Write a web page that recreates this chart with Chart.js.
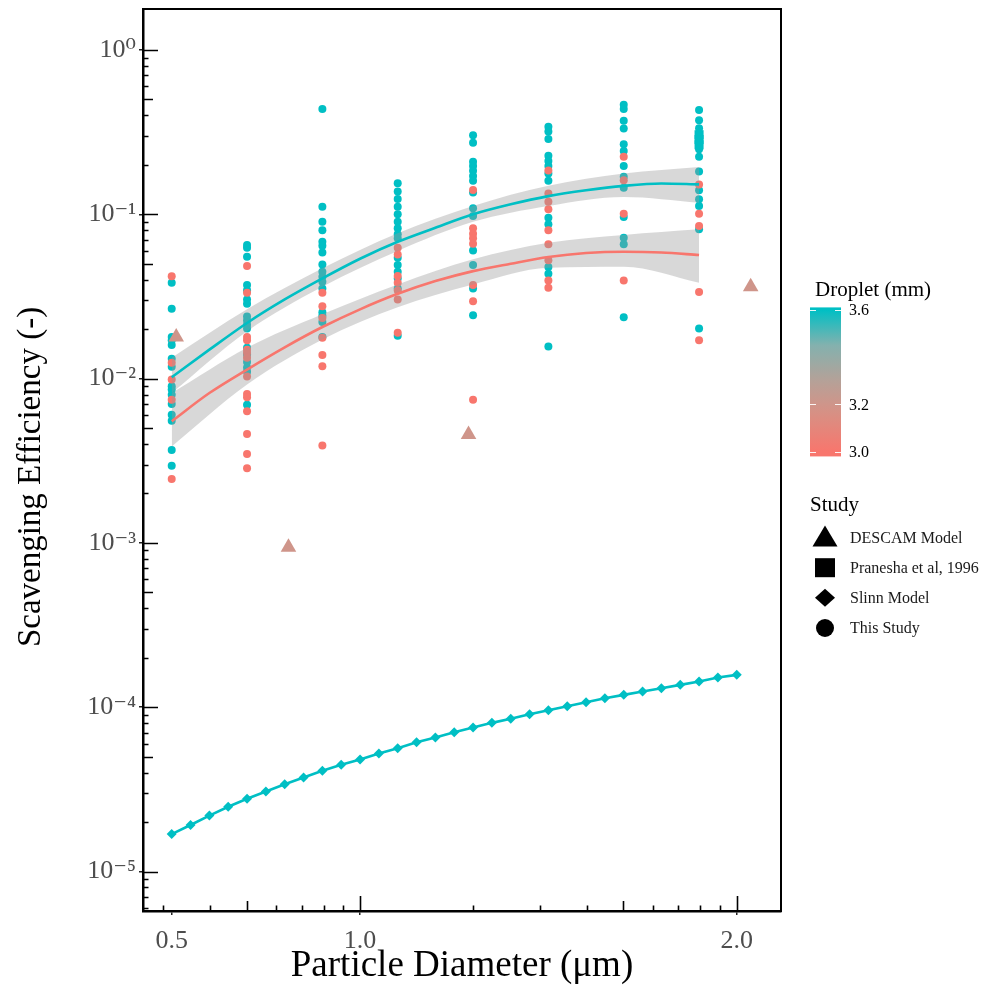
<!DOCTYPE html>
<html>
<head>
<meta charset="utf-8">
<script src="https://cdn.jsdelivr.net/npm/chart.js@4.4.0/dist/chart.umd.min.js"></script>
<style>
  html, body { margin: 0; padding: 0; background: #fff; }
</style>
</head>
<body>
<canvas id="chart" width="987" height="989"></canvas>
<script>
// particle sizes of the measured columns (um)
const particleSizes = [0.5, 0.7, 0.9, 1.1, 1.3, 1.5, 1.7, 1.9];

// This Study, 3.6 mm droplets (one list per particle size)
const eff36 = [
  [0.0383, 0.0266, 0.0179, 0.0171, 0.0160, 0.0132, 0.0118, 0.00898, 0.00857, 0.00798, 0.0070, 0.00603, 0.00554, 0.00367, 0.00295],
  [0.0650, 0.0626, 0.0552, 0.0371, 0.0345, 0.0303, 0.0285, 0.0239, 0.0226, 0.0213, 0.0202, 0.0154, 0.0140, 0.0126, 0.0117, 0.0110, 0.00694],
  [0.437, 0.111, 0.0902, 0.0799, 0.0680, 0.0644, 0.0586, 0.0495, 0.0447, 0.0417, 0.0388, 0.0354, 0.0253, 0.0241, 0.0221, 0.0179],
  [0.1545, 0.1374, 0.124, 0.111, 0.100, 0.0902, 0.0822, 0.0755, 0.0714, 0.0544, 0.0491, 0.0447, 0.0407, 0.0354, 0.0182],
  [0.303, 0.273, 0.209, 0.197, 0.184, 0.171, 0.160, 0.1355, 0.1088, 0.0977, 0.0603, 0.0491, 0.0354, 0.0243],
  [0.341, 0.319, 0.287, 0.227, 0.211, 0.197, 0.177, 0.160, 0.0954, 0.0869, 0.0477, 0.0435, 0.0157],
  [0.464, 0.437, 0.371, 0.333, 0.267, 0.243, 0.197, 0.169, 0.145, 0.0964, 0.0720, 0.0656, 0.0236],
  [0.431, 0.374, 0.334, 0.249, 0.224, 0.182, 0.140, 0.1234, 0.1124, 0.0810, 0.0202]
];

// This Study, 3.0 mm droplets
const eff30 = [
  [0.042, 0.0125, 0.00986, 0.00744, 0.00245],
  [0.0484, 0.0333, 0.0179, 0.0171, 0.0150, 0.0143, 0.0134, 0.0103, 0.00805, 0.00769, 0.00632, 0.00460, 0.00347, 0.00285],
  [0.0333, 0.0276, 0.0234, 0.0177, 0.0139, 0.0119, 0.00392],
  [0.0626, 0.0570, 0.0421, 0.0383, 0.0344, 0.0303, 0.0190],
  [0.1406, 0.0822, 0.0762, 0.0714, 0.0662, 0.0371, 0.0296, 0.00744],
  [0.185, 0.1336, 0.1193, 0.1072, 0.0799, 0.0656, 0.0525, 0.0396, 0.0357],
  [0.224, 0.161, 0.1009, 0.0396],
  [0.152, 0.1009, 0.0849, 0.0336, 0.0171]
];

// smooth fits
const fitX = [0.5, 0.6, 0.7, 0.8, 0.9, 1.0, 1.1, 1.2, 1.3, 1.4, 1.5, 1.6, 1.7, 1.8, 1.9];
const fit36 = [0.0102, 0.0150, 0.0218, 0.0303, 0.0407, 0.0536, 0.068, 0.0828, 0.100, 0.115, 0.129, 0.140, 0.149, 0.154, 0.152];
const fit30 = [0.0055, 0.00817, 0.01135, 0.0155, 0.0206, 0.0264, 0.0328, 0.0392, 0.0451, 0.050, 0.0549, 0.0581, 0.0592, 0.0586, 0.0565];
// confidence bands at the measured sizes
const band36Hi = [0.0134, 0.0264, 0.0469, 0.0766, 0.1124, 0.149, 0.177, 0.194];
const band36Lo = [0.00817, 0.0194, 0.0362, 0.0598, 0.090, 0.1124, 0.1275, 0.1177];
const band30Hi = [0.00817, 0.0154, 0.0246, 0.0374, 0.0532, 0.0671, 0.0748, 0.081];
const band30Lo = [0.00386, 0.0092, 0.0173, 0.0272, 0.0374, 0.0472, 0.0479, 0.0383];

// Slinn model
const slinnX = [0.5, 0.55, 0.6, 0.65, 0.7, 0.75, 0.8, 0.85, 0.9, 0.95, 1.0, 1.05, 1.1, 1.15, 1.2, 1.25,
  1.3, 1.35, 1.4, 1.45, 1.5, 1.55, 1.6, 1.65, 1.7, 1.75, 1.8, 1.85, 1.9, 1.95, 2.0];
const slinnEff = [1.69e-5, 1.92e-5, 2.19e-5, 2.48e-5, 2.77e-5, 3.07e-5, 3.40e-5, 3.73e-5, 4.10e-5, 4.46e-5,
  4.81e-5, 5.23e-5, 5.63e-5, 6.12e-5, 6.54e-5, 7.05e-5, 7.52e-5, 8.03e-5, 8.50e-5, 9.06e-5, 9.59e-5,
  1.014e-4, 1.072e-4, 1.134e-4, 1.189e-4, 1.247e-4, 1.306e-4, 1.368e-4, 1.432e-4, 1.517e-4, 1.574e-4];

// DESCAM model
const descamX = [0.512, 0.81, 1.288, 2.037];
const descamEff = [0.0179, 0.00094, 0.00457, 0.0362];

// Pranesha et al, 1996
const praneshaX = [1.9, 1.9, 1.9];
const praneshaEff = [0.305, 0.285, 0.265];

const xTickValues = [0.5, 1.0, 2.0];
const yTickValues = [1e-5, 1e-4, 1e-3, 1e-2, 1e-1, 1];
const dropletTicks = [3.0, 3.2, 3.6];
const studyLabels = ['DESCAM Model', 'Pranesha et al, 1996', 'Slinn Model', 'This Study'];

const CYAN = '#00BFC4';
const SALMON = '#F8766D';
const MID = '#CF958A';
const BAND = 'rgba(153,153,153,0.38)';
const SERIF = '"Liberation Serif", "DejaVu Serif", serif';

// colour bar stops (Lab blend of the two ends)
const barStops = [
  [0, '#F8766D'], [0.25, '#DA8E82'], [0.333, '#CF958A'], [0.5, '#B5A198'], [0.75, '#84B1AE'], [1, '#00BFC4']
];

const sup = { '0': '\u2070', '1': '\u00B9', '2': '\u00B2', '3': '\u00B3', '4': '\u2074', '5': '\u2075', '-': '\u207B' };
function powLabel(v) {
  const e = String(Math.round(Math.log10(v)));
  return '10' + e.split('').map(c => sup[c]).join('');
}

function pts(xs, ys) { return xs.map((x, i) => ({ x: x, y: ys[i] })); }
function columnPts(cols) {
  const out = [];
  cols.forEach((list, i) => list.forEach(v => out.push({ x: particleSizes[i], y: v })));
  return out;
}

const datasets = [
  { data: columnPts(eff36), showLine: false, pointRadius: 4, pointBackgroundColor: CYAN, pointBorderWidth: 0, order: 9 },
  { data: columnPts(eff30), showLine: false, pointRadius: 4, pointBackgroundColor: SALMON, pointBorderWidth: 0, order: 8 },
  { data: pts(particleSizes, band36Hi), fill: '+1', backgroundColor: BAND, borderWidth: 0, pointRadius: 0, cubicInterpolationMode: 'monotone', order: 6 },
  { data: pts(particleSizes, band36Lo), fill: false, borderWidth: 0, pointRadius: 0, cubicInterpolationMode: 'monotone', order: 6 },
  { data: pts(particleSizes, band30Hi), fill: '+1', backgroundColor: BAND, borderWidth: 0, pointRadius: 0, cubicInterpolationMode: 'monotone', order: 6 },
  { data: pts(particleSizes, band30Lo), fill: false, borderWidth: 0, pointRadius: 0, cubicInterpolationMode: 'monotone', order: 6 },
  { data: pts(fitX, fit36), borderColor: CYAN, borderWidth: 2.6, pointRadius: 0, cubicInterpolationMode: 'monotone', order: 4 },
  { data: pts(fitX, fit30), borderColor: SALMON, borderWidth: 2.6, pointRadius: 0, cubicInterpolationMode: 'monotone', order: 4 },
  { data: pts(slinnX, slinnEff), borderColor: CYAN, borderWidth: 2.6, pointStyle: 'rectRot', pointRadius: 5,
    pointBackgroundColor: CYAN, pointBorderWidth: 0, order: 3 },
  { data: pts(descamX, descamEff), showLine: false, pointStyle: 'triangle', pointRadius: 9, pointBackgroundColor: MID, pointBorderWidth: 0, order: 2 },
  { data: pts(praneshaX, praneshaEff), showLine: false, pointStyle: 'rect', pointRadius: 6.4, pointBackgroundColor: CYAN, pointBorderWidth: 0, order: 2 }
];

const framePlugin = {
  id: 'frame',
  afterDraw(chart) {
    const { ctx, chartArea: a, scales: { x, y } } = chart;
    ctx.save();
    ctx.strokeStyle = '#000';
    ctx.lineWidth = 1.6;
    ctx.beginPath();
    // log ticks on the inside of the left and bottom edges
    for (let k = -6; k <= 0; k++) {
      for (let m = 1; m <= 9; m++) {
        const v = m * Math.pow(10, k);
        if (v < y.min || v > y.max) continue;
        const py = Math.round(y.getPixelForValue(v)) + 0.5;
        const len = m === 1 ? 15 : (m === 5 ? 10 : 5.5);
        ctx.moveTo(a.left, py);
        ctx.lineTo(a.left + len, py);
      }
    }
    for (let k = 0; k <= 2; k++) {
      for (let m = 1; m <= 9; m++) {
        const v = k + Math.log10(m);
        if (v < x.min || v > x.max) continue;
        const px = Math.round(x.getPixelForValue(v)) + 0.5;
        const len = m === 1 ? 15 : (m === 5 ? 10 : 5.5);
        ctx.moveTo(px, a.bottom);
        ctx.lineTo(px, a.bottom - len);
      }
    }
    ctx.stroke();
    ctx.lineWidth = 2;
    ctx.strokeRect(a.left, a.top, a.right - a.left, a.bottom - a.top);

    // y axis title
    ctx.translate(31, 477);
    ctx.rotate(-Math.PI / 2);
    ctx.fillStyle = '#000';
    ctx.font = '33px ' + SERIF;
    ctx.textAlign = 'center';
    ctx.textBaseline = 'middle';
    ctx.fillText('Scavenging Efficiency (-)', 0, 0);
    ctx.restore();
  }
};

const legendPlugin = {
  id: 'sideLegend',
  afterDraw(chart) {
    const ctx = chart.ctx;
    ctx.save();
    ctx.fillStyle = '#000';
    ctx.textBaseline = 'middle';
    ctx.textAlign = 'left';

    // droplet colour bar
    ctx.font = '21px ' + SERIF;
    ctx.fillText('Droplet (mm)', 815, 290);
    const barX = 810, barW = 31;
    const yOf = d => 451.7 - (d - 3.0) / 0.6 * 141.7;
    const top = yOf(3.611), bot = yOf(2.98);
    const g = ctx.createLinearGradient(0, yOf(3.0), 0, yOf(3.6));
    barStops.forEach(s => g.addColorStop(s[0], s[1]));
    ctx.fillStyle = g;
    ctx.fillRect(barX, top, barW, bot - top);
    ctx.strokeStyle = 'rgba(255,255,255,0.9)';
    ctx.lineWidth = 1;
    ctx.font = '16px ' + SERIF;
    dropletTicks.forEach(d => {
      const py = Math.round(yOf(d)) + 0.5;
      ctx.beginPath();
      ctx.moveTo(barX, py); ctx.lineTo(barX + 6, py);
      ctx.moveTo(barX + barW - 6, py); ctx.lineTo(barX + barW, py);
      ctx.stroke();
      ctx.fillStyle = '#000';
      ctx.fillText(d.toFixed(1), 849, yOf(d) + 1);
    });

    // study shapes
    ctx.fillStyle = '#000';
    ctx.font = '21px ' + SERIF;
    ctx.fillText('Study', 810, 505);
    const cx = 825;
    const rows = [537.5, 567.7, 597.7, 628];
    ctx.beginPath();
    ctx.moveTo(cx, rows[0] - 12); ctx.lineTo(cx + 12.5, rows[0] + 9); ctx.lineTo(cx - 12.5, rows[0] + 9); ctx.closePath();
    ctx.fill();
    ctx.fillRect(cx - 10, rows[1] - 9.5, 20, 19);
    ctx.beginPath();
    ctx.moveTo(cx, rows[2] - 9); ctx.lineTo(cx + 10, rows[2]); ctx.lineTo(cx, rows[2] + 9); ctx.lineTo(cx - 10, rows[2]); ctx.closePath();
    ctx.fill();
    ctx.beginPath();
    ctx.arc(cx, rows[3], 9, 0, Math.PI * 2);
    ctx.fill();
    ctx.font = '16px ' + SERIF;
    ctx.fillStyle = '#1a1a1a';
    studyLabels.forEach((t, i) => ctx.fillText(t, 850, rows[i] + 1));
    ctx.restore();
  }
};

new Chart(document.getElementById('chart').getContext('2d'), {
  type: 'line',
  data: { datasets: datasets },
  options: {
    responsive: false,
    animation: false,
    devicePixelRatio: 1,
    layout: { padding: { top: 8, right: 206, left: 0, bottom: 0 } },
    plugins: { legend: { display: false }, tooltip: { enabled: false } },
    scales: {
      x: {
        type: 'linear',
        min: 0.4238,
        max: 2.1175,
        bounds: 'data',
        afterFit: s => { s.height = 78; s.paddingLeft = 0; s.paddingRight = 0; },
        afterBuildTicks: s => { s.ticks = xTickValues.map(v => ({ value: v })); },
        ticks: {
          callback: v => Number(v).toFixed(1),
          color: '#4d4d4d',
          font: { family: SERIF, size: 26 },
          padding: 11,
          autoSkip: false,
          maxRotation: 0
        },
        grid: { drawOnChartArea: false, drawTicks: true, tickLength: 4, color: '#222', lineWidth: 1.5 },
        border: { display: true, color: '#000', width: 2.5 },
        title: {
          display: true,
          text: 'Particle Diameter (\u03BCm)',
          color: '#000',
          font: { family: SERIF, size: 37 },
          padding: { top: 0, bottom: 1 }
        }
      },
      y: {
        type: 'logarithmic',
        min: 5.75e-6,
        max: 1.776,
        bounds: 'data',
        afterFit: s => { s.width = 143; s.paddingTop = 0; s.paddingBottom = 0; },
        afterBuildTicks: s => { s.ticks = yTickValues.map(v => ({ value: v })); },
        ticks: {
          callback: v => powLabel(v),
          color: '#4d4d4d',
          font: { family: SERIF, size: 26 },
          padding: 3,
          autoSkip: false
        },
        grid: { drawOnChartArea: false, drawTicks: true, tickLength: 4, color: '#222', lineWidth: 1.5 },
        border: { display: true, color: '#000', width: 2.5 }
      }
    }
  },
  plugins: [framePlugin, legendPlugin]
});
</script>
</body>
</html>
